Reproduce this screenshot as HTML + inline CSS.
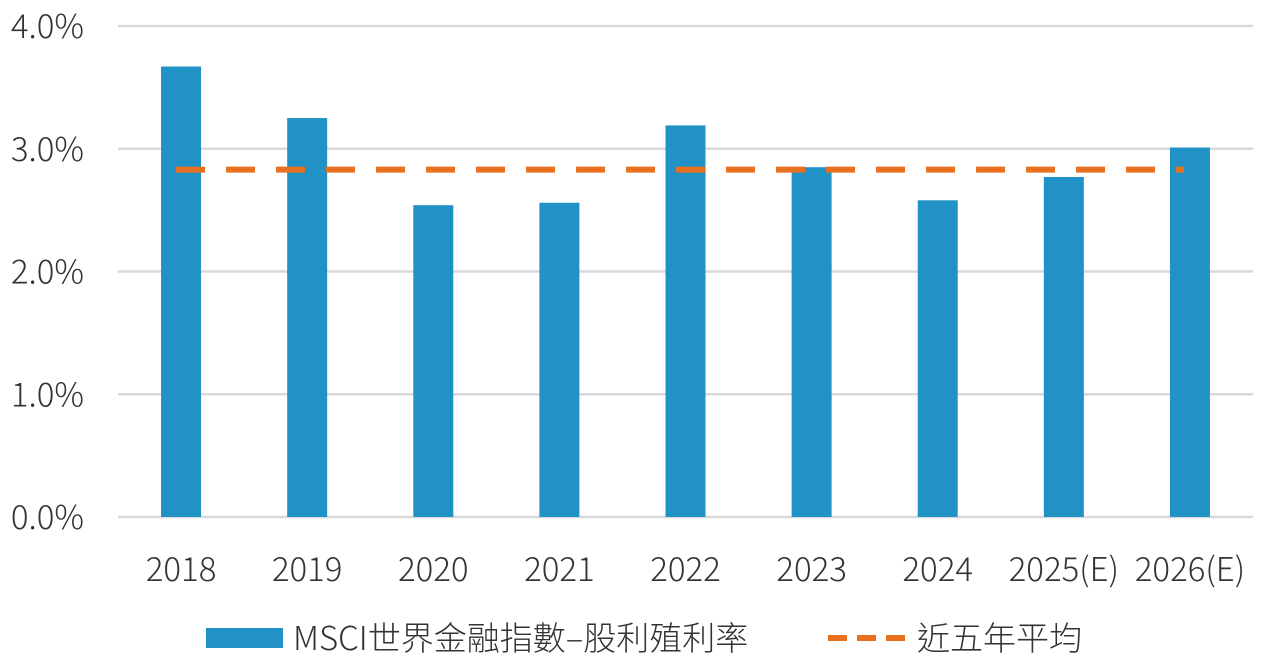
<!DOCTYPE html>
<html><head><meta charset="utf-8"><style>
body{margin:0;background:#fff;}
svg text{font-family:"Noto Sans CJK TC","Liberation Sans",sans-serif;fill:#333;font-weight:300;}
</style></head><body>
<svg id="chart" width="1279" height="664" xmlns="http://www.w3.org/2000/svg"></svg>
<script>
const categories=["2018","2019","2020","2021","2022","2023","2024","2025(E)","2026(E)"];
const yieldValues=[3.67,3.25,2.54,2.56,3.19,2.85,2.58,2.77,3.01];
const averageValue=[2.83];
const yTicks=[0,1,2,3,4];
const yTickLabels=["0.0%","1.0%","2.0%","3.0%","4.0%"];

const NS="http://www.w3.org/2000/svg";
const svg=document.getElementById('chart');
const x0=118,x1=1253,y0=517,y1=26,yMax=4;
const band=(x1-x0)/categories.length;
const xc=i=>x0+band*(i+0.5);
const y=v=>y0-(v/yMax)*(y0-y1);
function mk(t,a,p){const e=document.createElementNS(NS,t);for(const k in a)e.setAttribute(k,a[k]);(p||svg).appendChild(e);return e;}

yTicks.forEach((t,i)=>{
  const g=mk('line',{x1:x0,x2:x1,y1:y(t),y2:y(t),stroke:'#d9d9d9','stroke-width':2.5});
  
  
  const l=mk('text',{x:84,y:y(t)+12,'text-anchor':'end','font-size':33});
  l.textContent=yTickLabels[i];
  
  
});
categories.forEach((c,i)=>{
  const b=mk('rect',{x:xc(i)-20,y:y(yieldValues[i]),width:40,height:y0-y(yieldValues[i]),fill:'#2192c5'});
  
  
  const l=mk('text',{x:xc(i),y:581,'text-anchor':'middle','font-size':33});
  l.textContent=c;
  
  
});
const avg=mk('line',{x1:xc(0)-5,x2:xc(8)-6,y1:y(averageValue[0]),y2:y(averageValue[0]),stroke:'#e8701f','stroke-width':6,'stroke-dasharray':'29 21'});



const lg=mk('g',{});


const r=mk('rect',{x:206,y:628,width:77,height:20,fill:'#2192c5'},lg);


const t1=mk('text',{x:293,y:650,'font-size':33},lg);
t1.textContent='MSCI世界金融指數–股利殖利率';


const dl=mk('line',{x1:828,x2:906,y1:638,y2:638,stroke:'#e8701f','stroke-width':6,'stroke-dasharray':'19 10'},lg);


const t2=mk('text',{x:917,y:650,'font-size':33},lg);
t2.textContent='近五年平均';


</script>
</body></html>
